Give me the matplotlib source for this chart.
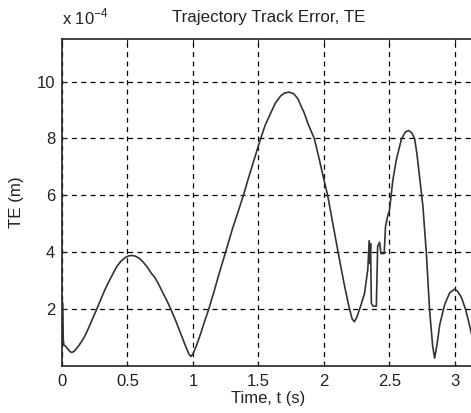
import matplotlib
matplotlib.use("Agg")
import matplotlib.pyplot as plt

plt.rcParams["font.family"] = ["Liberation Sans", "DejaVu Sans"]

# Trajectory track error, TE, in units of 1e-4 m, against time in seconds
time_s = [
    0.0, 0.006, 0.01, 0.015, 0.025, 0.04, 0.06, 0.075, 0.09, 0.11, 0.13, 0.15,
    0.175, 0.2, 0.23, 0.266, 0.3, 0.33, 0.36, 0.39, 0.42, 0.45, 0.48, 0.51,
    0.534, 0.56, 0.59, 0.62, 0.65, 0.68, 0.71, 0.74, 0.77, 0.8, 0.83, 0.86,
    0.89, 0.92, 0.95, 0.97, 0.985, 1.0, 1.03, 1.06, 1.09, 1.121, 1.16, 1.2,
    1.249, 1.3, 1.35, 1.385, 1.42, 1.46, 1.5, 1.517, 1.55, 1.594, 1.63, 1.67,
    1.7, 1.734, 1.77, 1.8, 1.849, 1.88, 1.926, 1.96, 2.0, 2.028, 2.06, 2.1,
    2.13, 2.16, 2.19, 2.215, 2.232, 2.25, 2.28, 2.31, 2.335, 2.345, 2.351,
    2.356, 2.362, 2.375, 2.4, 2.41, 2.425, 2.435, 2.46, 2.47, 2.488, 2.5,
    2.526, 2.552, 2.59, 2.62, 2.646, 2.67, 2.692, 2.71, 2.73, 2.756, 2.782,
    2.807, 2.83, 2.845, 2.865, 2.884, 2.922, 2.96, 2.998, 3.02, 3.05, 3.08,
    3.101, 3.134, 3.15,
]
te_e4 = [
    2.3, 2.2, 0.9, 0.72, 0.7, 0.62, 0.5, 0.47, 0.5, 0.6, 0.72, 0.86,
    1.05, 1.3, 1.62, 2.0, 2.38, 2.7, 2.98, 3.25, 3.5, 3.68, 3.8, 3.87,
    3.88, 3.86, 3.78, 3.65, 3.48, 3.27, 3.1, 2.85, 2.57, 2.3, 2.0, 1.68,
    1.33, 0.97, 0.62, 0.4, 0.33, 0.42, 0.75, 1.15, 1.58, 2.0, 2.6, 3.25,
    4.0, 4.8, 5.5, 6.0, 6.55, 7.15, 7.75, 8.0, 8.45, 8.9, 9.25, 9.5,
    9.6, 9.63, 9.57, 9.4, 8.9, 8.5, 8.0, 7.35, 6.55, 6.0, 5.2, 4.2,
    3.46, 2.75, 2.1, 1.65, 1.55, 1.7, 2.1, 2.55, 3.4, 4.4, 3.6,
    4.3, 2.2, 2.1, 2.1, 4.2, 4.35, 3.95, 3.95, 4.9, 5.3, 5.47,
    6.53, 7.24, 7.95, 8.22, 8.28, 8.2, 8.0, 7.45, 6.65, 5.59, 3.94,
    1.93, 0.7, 0.27, 0.8, 1.45, 2.16, 2.57, 2.7, 2.62, 2.4, 2.0,
    1.63, 0.98, 0.7,
]

x_ticks = [0, 0.5, 1, 1.5, 2, 2.5, 3]
x_tick_labels = ["0", "0.5", "1", "1.5", "2", "2.5", "3"]
y_ticks = [2, 4, 6, 8, 10]
y_tick_labels = ["2", "4", "6", "8", "10"]

fig = plt.figure(figsize=(4.71, 4.13), dpi=100)
ax = fig.add_axes([0.1316, 0.1143, 0.876, 0.7913])

ax.plot(time_s, te_e4, color="#333333", linewidth=1.2, zorder=3)

ax.set_xlim(0, 3.15)
ax.set_ylim(0, 11.5)
ax.set_xticks(x_ticks)
ax.set_xticklabels(x_tick_labels)
ax.set_yticks(y_ticks)
ax.set_yticklabels(y_tick_labels)

ax.grid(True, color="black", linestyle=(0, (4, 3.5)), linewidth=0.9)
ax.tick_params(direction="in", length=3, labelsize=12, colors="#222222",
               top=True, right=True)
ax.tick_params(axis="x", pad=6)
ax.tick_params(axis="y", pad=5)
for side in ax.spines.values():
    side.set_linewidth(1.2)
    side.set_color("#222222")

ax.set_title("Trajectory Track Error, TE", fontsize=12.2, color="#222222", pad=12)
ax.set_xlabel("Time, t (s)", fontsize=12, color="#222222", labelpad=1)
ax.set_ylabel("TE (m)", fontsize=12.2, color="#222222", labelpad=9)
ax.text(0.0, 1.035, r"x 10$^{\mathregular{-4}}$", transform=ax.transAxes,
        fontsize=12, color="#222222", ha="left", va="bottom")

fig.savefig("out.png", dpi=100)
